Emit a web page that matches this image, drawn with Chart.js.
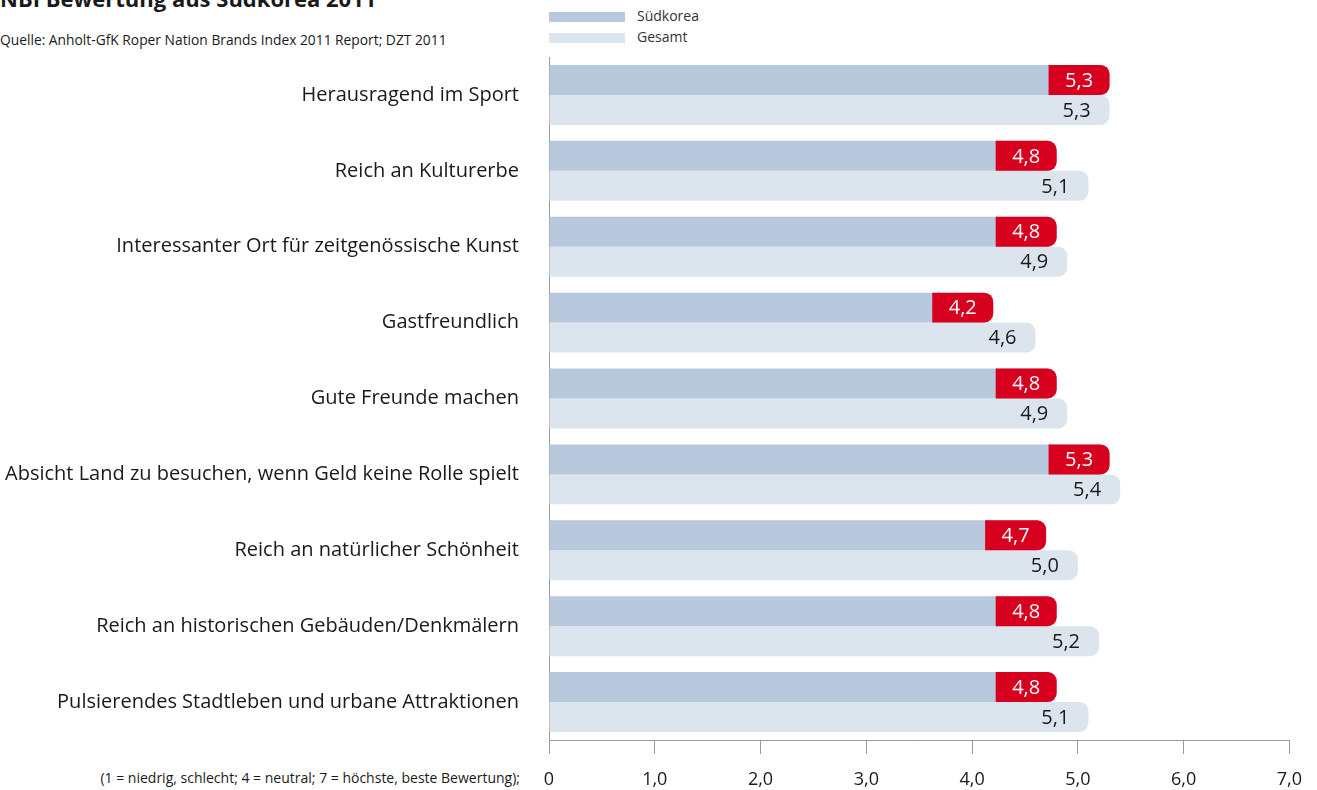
<!DOCTYPE html>
<html>
<head>
<meta charset="utf-8">
<script src="https://cdn.jsdelivr.net/npm/chart.js@4/dist/chart.umd.min.js"></script>
<style>
    body { margin: 0; background: #fff; font-family: "Open Sans", sans-serif; color: #1a1a1a; }
    #wrap { position: relative; width: 1317px; height: 790px; overflow: hidden; }
    #title { position: absolute; left: 0; top: -17px; font-size: 22px; font-weight: bold; white-space: nowrap; }
    #source { position: absolute; left: 0; top: 30px; font-size: 13.8px; white-space: nowrap; }
    #note { position: absolute; right: 797px; top: 768px; font-size: 14px; white-space: nowrap; }
    .leg { position: absolute; left: 549px; font-size: 14px; color: #333; }
    .leg span { display: inline-block; width: 76px; height: 10px; margin-right: 12px; vertical-align: middle; }
    canvas { position: absolute; left: 0; top: 0; }
</style>
</head>
<body>
<div id="wrap">
    <div id="title">NBI Bewertung aus Südkorea 2011</div>
    <div id="source">Quelle: Anholt-GfK Roper Nation Brands Index 2011 Report; DZT 2011</div>
    <div class="leg" style="top:6px"><span style="background:#b8c9de"></span>Südkorea</div>
    <div class="leg" style="top:27px"><span style="background:#dce5ee"></span>Gesamt</div>
    <div id="note">(1 = niedrig, schlecht; 4 = neutral; 7 = höchste, beste Bewertung);</div>
    <canvas id="nbi_chart" width="1317" height="790"></canvas>
</div>
<script>
// Daten
var categories = [
    'Herausragend im Sport',
    'Reich an Kulturerbe',
    'Interessanter Ort für zeitgenössische Kunst',
    'Gastfreundlich',
    'Gute Freunde machen',
    'Absicht Land zu besuchen, wenn Geld keine Rolle spielt',
    'Reich an natürlicher Schönheit',
    'Reich an historischen Gebäuden/Denkmälern',
    'Pulsierendes Stadtleben und urbane Attraktionen'
];
var suedkorea = [5.3, 4.8, 4.8, 4.2, 4.8, 5.3, 4.7, 4.8, 4.8];
var gesamt = [5.3, 5.1, 4.9, 4.6, 4.9, 5.4, 5.0, 5.2, 5.1];
var tick_labels = ['0', '1,0', '2,0', '3,0', '4,0', '5,0', '6,0', '7,0'];

var red = '#d7001e';
var font_family = '"Open Sans", sans-serif';

function fmt(v) {
    return v.toFixed(1).replace('.', ',');
}

function roundRight(ctx, x, y, w, h, r) {
    ctx.beginPath();
    ctx.moveTo(x, y);
    ctx.lineTo(x + w - r, y);
    ctx.arcTo(x + w, y, x + w, y + r, r);
    ctx.lineTo(x + w, y + h - r);
    ctx.arcTo(x + w, y + h, x + w - r, y + h, r);
    ctx.lineTo(x, y + h);
    ctx.closePath();
}

// Rote Endstücke und Werte
var valueLabels = {
    id: 'valueLabels',
    afterDatasetsDraw: function (chart) {
        var ctx = chart.ctx;
        ctx.save();
        ctx.font = '20px ' + font_family;
        ctx.textBaseline = 'middle';

        chart.getDatasetMeta(0).data.forEach(function (bar, i) {
            var h = bar.height;
            var w = 61;
            roundRight(ctx, bar.x - w, bar.y - h / 2, w, h, 9);
            ctx.fillStyle = red;
            ctx.fill();
            ctx.fillStyle = '#fff';
            ctx.textAlign = 'center';
            ctx.fillText(fmt(suedkorea[i]), bar.x - w / 2, bar.y + 1);
        });

        chart.getDatasetMeta(1).data.forEach(function (bar, i) {
            ctx.fillStyle = '#1a1a1a';
            ctx.textAlign = 'right';
            ctx.fillText(fmt(gesamt[i]), bar.x - 19, bar.y + 1);
        });
        ctx.restore();
    }
};

var ctx = document.getElementById('nbi_chart').getContext('2d');
var chart = new Chart(ctx, {
    type: 'bar',
    data: {
        labels: categories,
        datasets: [{
            label: 'Südkorea',
            data: suedkorea,
            backgroundColor: '#b8c9de',
            borderWidth: 0,
            borderSkipped: 'start',
            borderRadius: { topRight: 9, bottomRight: 9, topLeft: 0, bottomLeft: 0 }
        }, {
            label: 'Gesamt',
            data: gesamt,
            backgroundColor: '#dce5ee',
            borderWidth: 0,
            borderSkipped: 'start',
            borderRadius: { topRight: 9, bottomRight: 9, topLeft: 0, bottomLeft: 0 }
        }]
    },
    options: {
        indexAxis: 'y',
        responsive: false,
        animation: false,
        categoryPercentage: 0.79,
        barPercentage: 1,
        layout: { padding: { top: 57, right: 27, left: 0, bottom: 0 } },
        plugins: {
            legend: { display: false },
            tooltip: { enabled: false }
        },
        scales: {
            x: {
                min: 0,
                max: 7,
                ticks: {
                    stepSize: 1,
                    color: '#1a1a1a',
                    font: { size: 18, family: font_family },
                    padding: 15,
                    callback: function (value, index) {
                        return tick_labels[index];
                    }
                },
                grid: {
                    drawOnChartArea: false,
                    drawTicks: true,
                    tickLength: 14,
                    color: '#9a9a9a'
                },
                border: { display: true, color: '#9a9a9a' },
                afterFit: function (scale) {
                    scale.height = 50;
                }
            },
            y: {
                ticks: {
                    color: '#1a1a1a',
                    font: { size: 20, family: font_family },
                    padding: 30
                },
                grid: { display: false, drawTicks: false },
                border: { display: true, color: '#9a9a9a' },
                afterFit: function (scale) {
                    scale.width = 549;
                }
            }
        }
    },
    plugins: [valueLabels]
});
</script>
</body>
</html>
